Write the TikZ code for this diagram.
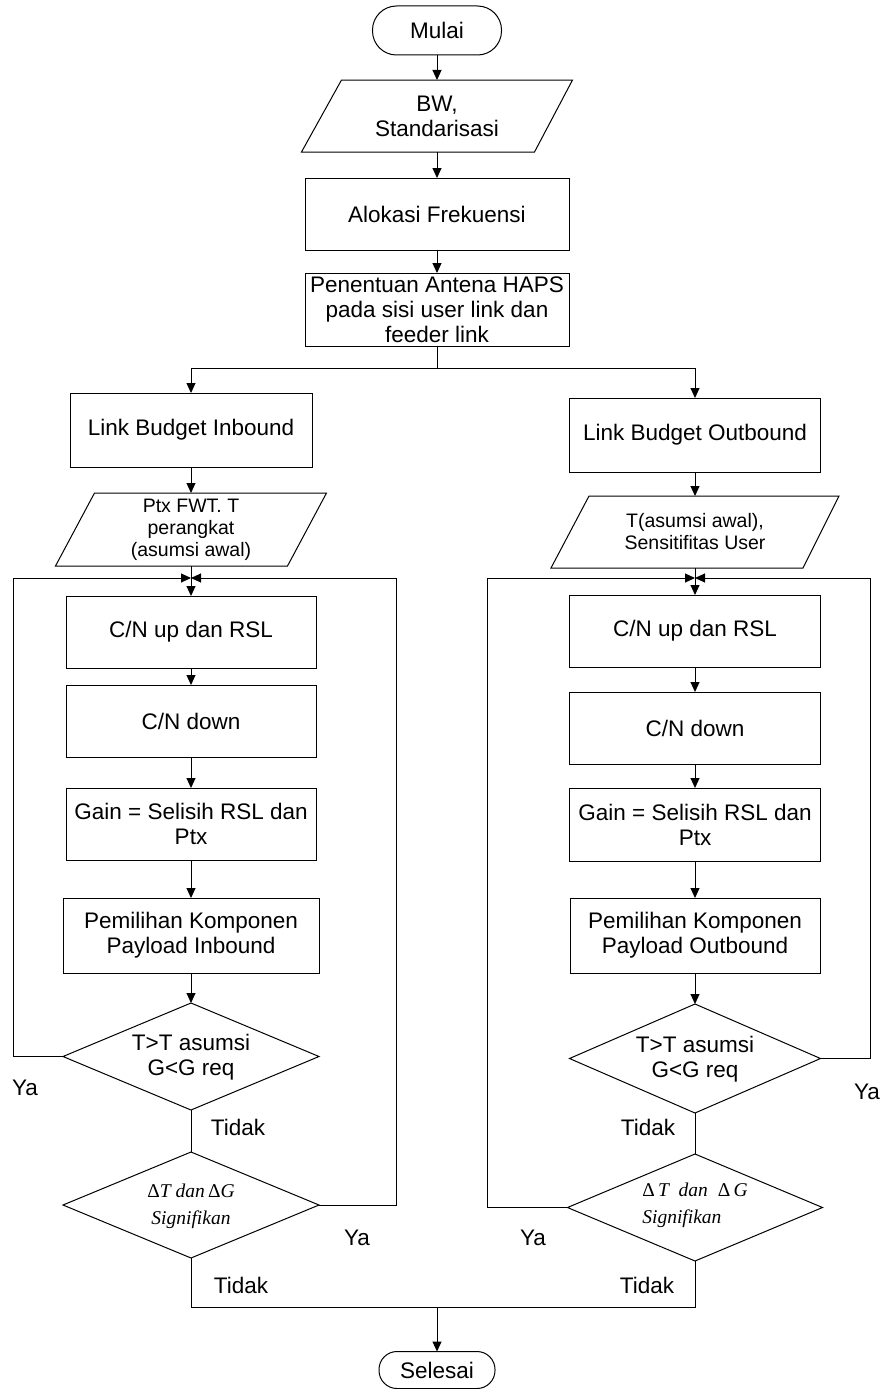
\documentclass[tikz,border=0pt]{standalone}
\usepackage{fontspec}
\setmainfont{Liberation Sans}
\newfontfamily\tnr{Liberation Serif}
\usetikzlibrary{arrows.meta,shapes.geometric,calc}
\begin{document}
\begin{tikzpicture}[x=1pt,y=-1pt,line width=1pt,
  base/.style={inner sep=0pt, outer sep=0pt, align=center, font=\fontsize{22.5}{25}\selectfont},
  box/.style={base, draw, rectangle},
  term/.style={base, draw, rectangle},
  databox/.style={base, font=\fontsize{19.5}{22}\selectfont},
  dia/.style={draw, diamond, inner sep=0pt, outer sep=0pt},
  ittext/.style={inner sep=0pt, outer sep=0pt, font=\tnr\itshape\fontsize{19.5}{27}\selectfont},
  lbl/.style={inner sep=0pt, font=\fontsize{22.5}{25}\selectfont},
  arr/.style={-{Triangle[length=10pt,width=9pt]}},
]
\useasboundingbox (0,0) rectangle (886,1389);

% top
\node[term, minimum width=129pt, minimum height=49pt, rounded corners=24pt] (mulai) at (437,30.5) {Mulai};
\node[base, minimum width=271pt, minimum height=72pt] (bw) at (437,116) {BW,\\Standarisasi};
\draw ([xshift=40pt]bw.north west) -- (bw.north east) -- ([xshift=-38pt]bw.south east) -- (bw.south west) -- cycle;
\node[box, minimum width=264pt, minimum height=72pt] (alok) at (437,214) {Alokasi Frekuensi};
\node[box, minimum width=264pt, minimum height=73pt] (haps) at (437,309.5) {Penentuan Antena HAPS\\pada sisi user link dan\\feeder link};

% left column
\node[box, minimum width=242pt, minimum height=74pt] (lbi) at (191,430) {Link Budget Inbound};
\node[databox, minimum width=271pt, minimum height=73pt] (pL) at (191,529.5) {Ptx FWT. T\\perangkat\\(asumsi awal)};
\draw ([xshift=39pt]pL.north west) -- (pL.north east) -- ([xshift=-39pt]pL.south east) -- (pL.south west) -- cycle;
\node[box, minimum width=250pt, minimum height=72pt] (cnuL) at (191,632) {C/N up dan RSL};
\node[box, minimum width=250pt, minimum height=72pt] (cndL) at (191,721) {C/N down};
\node[box, minimum width=250pt, minimum height=72pt] (gainL) at (191,824) {Gain = Selisih RSL dan\\Ptx};
\node[box, minimum width=256pt, minimum height=75pt] (pemL) at (191,935.5) {Pemilihan Komponen\\Payload Inbound};
\node[dia, minimum width=256pt, minimum height=107pt] (d1L) at (191,1056.5) {};
\node[base] (d1Lt) at (191,1057) {T>T asumsi\\G<G req};
\node[dia, minimum width=256pt, minimum height=106pt] (d2L) at (191,1205) {};
\node[ittext, align=center] (d2Lt) at (191,1206) {{\upshape Δ}T dan\,{\upshape Δ}G\\Signifikan};

% right column
\node[box, minimum width=251pt, minimum height=74pt] (lbo) at (695,435) {Link Budget Outbound};
\node[databox, minimum width=288pt, minimum height=72pt] (pR) at (695,532) {T(asumsi awal),\\Sensitifitas User};
\draw ([xshift=38pt]pR.north west) -- (pR.north east) -- ([xshift=-36pt]pR.south east) -- (pR.south west) -- cycle;
\node[box, minimum width=251pt, minimum height=72pt] (cnuR) at (695,631) {C/N up dan RSL};
\node[box, minimum width=251pt, minimum height=72pt] (cndR) at (695,728) {C/N down};
\node[box, minimum width=251pt, minimum height=73pt] (gainR) at (695,824.5) {Gain = Selisih RSL dan\\Ptx};
\node[box, minimum width=250pt, minimum height=75pt] (pemR) at (695,935.5) {Pemilihan Komponen\\Payload Outbound};
\node[dia, minimum width=251pt, minimum height=109pt] (d1R) at (695,1058.5) {};
\node[base] (d1Rt) at (695,1059) {T>T asumsi\\G<G req};
\node[dia, minimum width=255pt, minimum height=107pt] (d2R) at (695,1207.5) {};
\node[ittext, align=left] (d2Rt) at (695,1205) {{\upshape Δ}\,T\ \ dan\ \ {\upshape Δ}\,G\\Signifikan};

\node[term, minimum width=116pt, minimum height=37pt, rounded corners=18pt] (sel) at (437,1370) {Selesai};

% labels
\node[lbl] (ya1L) at (25,1088) {Ya};
\node[lbl] (ti1L) at (238,1127) {Tidak};
\node[lbl] (ya2L) at (357,1238) {Ya};
\node[lbl] (ti2L) at (241,1285) {Tidak};
\node[lbl] (ya1R) at (867,1092) {Ya};
\node[lbl] (ti1R) at (648,1127) {Tidak};
\node[lbl] (ya2R) at (533,1238) {Ya};
\node[lbl] (ti2R) at (647,1285) {Tidak};

% coordinates
\coordinate (split) at (437,368);
\coordinate (jL) at (191,578);
\coordinate (lxL) at (13,578);
\coordinate (rxL) at (396,578);
\coordinate (jR) at (695,578);
\coordinate (lxR) at (487,578);
\coordinate (rxR) at (870,578);
\coordinate (bm) at (437,1307);

% connectors
\draw[arr] (mulai) -- (bw);
\draw[arr] (bw) -- (alok);
\draw[arr] (alok) -- (haps);
\draw (haps.south) -- (split);
\draw[arr] (split) -| (lbi.north);
\draw[arr] (split) -| (lbo.north);
\draw[arr] (lbi) -- (pL);
\draw[arr] (lbo) -- (pR);
\draw[arr] (pL) -- (cnuL);
\draw[arr] (pR) -- (cnuR);
\draw[arr] (cnuL) -- (cndL);
\draw[arr] (cndL) -- (gainL);
\draw[arr] (gainL) -- (pemL);
\draw[arr] (pemL) -- (d1L);
\draw (d1L) -- (d2L);
\draw[arr] (cnuR) -- (cndR);
\draw[arr] (cndR) -- (gainR);
\draw[arr] (gainR) -- (pemR);
\draw[arr] (pemR) -- (d1R);
\draw (d1R) -- (d2R);
\draw[arr] (d1L.west) -| (lxL) -- (jL);
\draw[arr] (d2L.east) -| (rxL) -- (jL);
\draw[arr] (d1R.east) -| (rxR) -- (jR);
\draw[arr] (d2R.west) -| (lxR) -- (jR);
\draw (d2L.south) |- (bm) -| (d2R.south);
\draw[arr] (bm) -- (sel);
\end{tikzpicture}
\end{document}
